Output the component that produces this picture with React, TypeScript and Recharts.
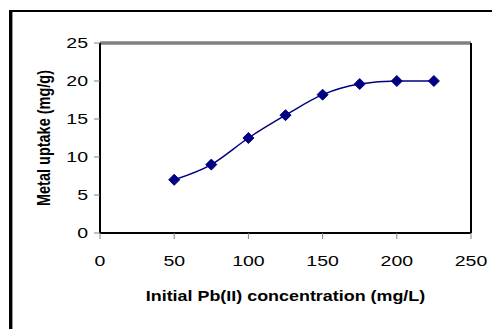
import { LineChart, Line, XAxis, YAxis, ReferenceLine } from 'recharts';

const concentration = [50, 75, 100, 125, 150, 175, 200, 225];
const uptake = [7.0, 9.0, 12.5, 15.5, 18.2, 19.6, 20.0, 20.0];
const xTicks = [0, 50, 100, 150, 200, 250];
const yTicks = [0, 5, 10, 15, 20, 25];

const data = concentration.map((c, i) => ({ c, u: uptake[i] }));

const FONT = 'Liberation Sans, Arial, sans-serif';
const STRETCH = 1.3; // the source image is horizontally stretched

const Diamond = (props: any) => {
  const { cx, cy } = props;
  if (cx == null || cy == null) return null;
  const r = 5.5;
  return (
    <path
      d={`M${cx},${cy - r}L${cx + r},${cy}L${cx},${cy + r}L${cx - r},${cy}Z`}
      fill="#000080"
      stroke="#000080"
    />
  );
};

const XTick = (props: any) => {
  const { x, y, payload } = props;
  return (
    <text
      transform={`translate(${x},${y + 25}) scale(${STRETCH},1)`}
      textAnchor="middle"
      fontFamily={FONT}
      fontSize={15}
      fill="#000"
    >
      {payload.value}
    </text>
  );
};

const YTick = (props: any) => {
  const { x, y, payload } = props;
  return (
    <text
      transform={`translate(${x - 4},${y + 5}) scale(${STRETCH},1)`}
      textAnchor="end"
      fontFamily={FONT}
      fontSize={15}
      fill="#000"
    >
      {payload.value}
    </text>
  );
};

const XLabel = (props: any) => {
  const { viewBox } = props;
  if (!viewBox) return null;
  const cx = viewBox.x + viewBox.width / 2;
  return (
    <text
      transform={`translate(${cx},301) scale(1.28,1)`}
      textAnchor="middle"
      fontFamily={FONT}
      fontSize={14}
      fontWeight="bold"
      fill="#000"
    >
      Initial Pb(II) concentration (mg/L)
    </text>
  );
};

const YLabel = (props: any) => {
  const { viewBox } = props;
  if (!viewBox) return null;
  const cy = viewBox.y + viewBox.height / 2;
  return (
    <text
      transform={`translate(50,${cy}) rotate(-90) scale(1,1.25)`}
      textAnchor="middle"
      fontFamily={FONT}
      fontSize={14.5}
      fontWeight="bold"
      fill="#000"
    >
      Metal uptake (mg/g)
    </text>
  );
};

export default function App() {
  return (
    <div style={{ position: 'relative', width: 492, height: 329, background: '#fff' }}>
      <style>{'body{margin:0}'}</style>
      <div
        style={{
          position: 'absolute',
          left: 9,
          top: 10,
          right: 0,
          bottom: 0,
          borderTop: '2px solid #000',
          borderLeft: '3px solid #000',
          boxShadow: 'inset 1px 0 0 #999',
        }}
      />
      <div style={{ position: 'absolute', left: 0, top: 0 }}>
        <LineChart
          width={492}
          height={329}
          data={data}
          margin={{ top: 43, right: 21, bottom: 66, left: 40 }}
        >
          <ReferenceLine y={25} stroke="#444" strokeWidth={3} />
          <ReferenceLine y={25} stroke="#bbb" strokeWidth={1} />
          <ReferenceLine x={250} stroke="#000" strokeWidth={2} />
          <XAxis
            type="number"
            dataKey="c"
            domain={[0, 250]}
            ticks={xTicks}
            height={30}
            axisLine={{ stroke: '#000', strokeWidth: 2 }}
            tickLine={{ stroke: '#808080' }}
            tickSize={6}
            tick={<XTick />}
            label={<XLabel />}
          />
          <YAxis
            type="number"
            domain={[0, 25]}
            ticks={yTicks}
            width={60}
            axisLine={{ stroke: '#000', strokeWidth: 2 }}
            tickLine={{ stroke: '#808080' }}
            tickSize={6}
            tick={<YTick />}
            label={<YLabel />}
          />
          <Line
            type="monotone"
            dataKey="u"
            stroke="#000080"
            strokeWidth={1.5}
            dot={<Diamond />}
            activeDot={false}
            isAnimationActive={false}
          />
        </LineChart>
      </div>
    </div>
  );
}
